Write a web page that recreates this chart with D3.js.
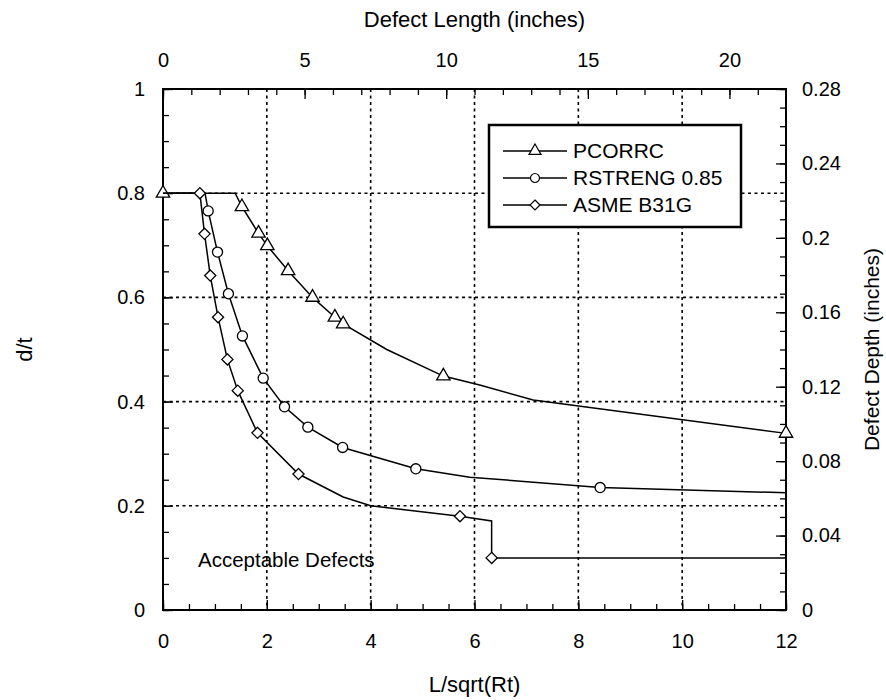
<!DOCTYPE html>
<html>
<head>
<meta charset="utf-8">
<script src="https://cdn.jsdelivr.net/npm/d3@7"></script>
<style>
  body { margin: 0; background: #fff; }
  svg text { font-family: Arial, 'Liberation Sans', sans-serif; fill: #000; }
</style>
</head>
<body>
<div id="graph-container"></div>
<script>
// Values
const xTicks = [0, 2, 4, 6, 8, 10, 12];
const yTicks = [0, 0.2, 0.4, 0.6, 0.8, 1];
const topTicks = [0, 5, 10, 15, 20];
const rightTicks = [0, 0.04, 0.08, 0.12, 0.16, 0.2, 0.24, 0.28];

const pcorrcLineX = [0, 1.39, 1.52, 1.84, 2.01, 2.41, 2.88, 3.31, 3.47, 4.31, 5.4, 6.1, 7.13, 12];
const pcorrcLineY = [0.8, 0.8, 0.774, 0.723, 0.699, 0.651, 0.6, 0.562, 0.549, 0.5, 0.449, 0.432, 0.403, 0.339];
const pcorrcMarkX = [0, 1.52, 1.84, 2.01, 2.41, 2.88, 3.31, 3.47, 5.4, 12];
const pcorrcMarkY = [0.8, 0.774, 0.723, 0.699, 0.651, 0.6, 0.562, 0.549, 0.449, 0.339];

const rstrengLineX = [0, 0.81, 0.87, 1.05, 1.26, 1.53, 1.93, 2.34, 2.79, 3.46, 4.87, 5.91, 8.42, 12];
const rstrengLineY = [0.8, 0.8, 0.766, 0.687, 0.607, 0.526, 0.445, 0.39, 0.351, 0.312, 0.271, 0.255, 0.235, 0.225];
const rstrengMarkX = [0.87, 1.05, 1.26, 1.53, 1.93, 2.34, 2.79, 3.46, 4.87, 8.42];
const rstrengMarkY = [0.766, 0.687, 0.607, 0.526, 0.445, 0.39, 0.351, 0.312, 0.271, 0.235];

const asmeLineX = [0, 0.71, 0.8, 0.91, 1.06, 1.24, 1.44, 1.82, 2.61, 3.47, 4.0, 5.72, 6.33, 6.33, 12];
const asmeLineY = [0.8, 0.8, 0.722, 0.642, 0.562, 0.481, 0.421, 0.34, 0.261, 0.217, 0.2, 0.18, 0.171, 0.1, 0.1];
const asmeMarkX = [0.71, 0.8, 0.91, 1.06, 1.24, 1.44, 1.82, 2.61, 5.72, 6.33];
const asmeMarkY = [0.8, 0.722, 0.642, 0.562, 0.481, 0.421, 0.34, 0.261, 0.18, 0.1];

const seriesNames = ['PCORRC', 'RSTRENG 0.85', 'ASME B31G'];

const zip = (xs, ys) => xs.map((x, i) => ({ x, y: ys[i] }));

// diamond drawn as a square turned 45 degrees (matches the original's wide diamonds)
const symDiamond = { draw(ctx, size) { const r = Math.sqrt(size / 2); ctx.moveTo(0, -r); ctx.lineTo(r, 0); ctx.lineTo(0, r); ctx.lineTo(-r, 0); ctx.closePath(); } };

const series = [
  { name: seriesNames[0], symbol: d3.symbolTriangle, size: 78, line: zip(pcorrcLineX, pcorrcLineY), marks: zip(pcorrcMarkX, pcorrcMarkY) },
  { name: seriesNames[1], symbol: d3.symbolCircle, size: 80, line: zip(rstrengLineX, rstrengLineY), marks: zip(rstrengMarkX, rstrengMarkY) },
  { name: seriesNames[2], symbol: symDiamond, size: 62, line: zip(asmeLineX, asmeLineY), marks: zip(asmeMarkX, asmeMarkY) },
];

const width = 886;
const height = 700;
const padL = 163, padR = 786, padT = 89, padB = 610;
const FONT = '20px';
const TITLE_FONT = '22px';

const svg = d3.select('#graph-container')
  .append('svg')
  .attr('width', width)
  .attr('height', height);

const x = d3.scaleLinear().domain([0, 12]).range([padL, padR]);
const y = d3.scaleLinear().domain([0, 1]).range([padB, padT]);
const xTop = d3.scaleLinear().domain([0, 12 * Math.sqrt(12 * 0.28)]).range([padL, padR]);
const yRight = d3.scaleLinear().domain([0, 0.28]).range([padB, padT]);

// Dotted grid
const grid = svg.append('g').attr('stroke', '#000').attr('stroke-width', 1.6).attr('stroke-dasharray', '3,3.5');
grid.selectAll('.vg').data(xTicks.slice(1, -1)).enter().append('line')
  .attr('x1', (d) => x(d)).attr('x2', (d) => x(d)).attr('y1', padT).attr('y2', padB);
grid.selectAll('.hg').data(yTicks.slice(1, -1)).enter().append('line')
  .attr('y1', (d) => y(d)).attr('y2', (d) => y(d)).attr('x1', padL).attr('x2', padR);

// Axes with inward ticks
function styleAxis(g) {
  g.select('.domain').remove();
  g.selectAll('.tick line').attr('stroke', '#000').attr('stroke-width', 1.3);
  g.selectAll('text').style('font-size', FONT).attr('fill', '#000');
}

const bottomMinor = d3.range(0, 12.01, 0.5);
svg.append('g').attr('transform', `translate(0,${padB})`)
  .call(d3.axisBottom(x).tickValues(bottomMinor).tickSize(-6).tickFormat(''))
  .call(styleAxis);
svg.append('g').attr('transform', `translate(0,${padB})`)
  .call(d3.axisBottom(x).tickValues(xTicks).tickSize(-10).tickPadding(24).tickFormat(d3.format('d')))
  .call(styleAxis);

const leftMinor = d3.range(0, 1.001, 0.05);
svg.append('g').attr('transform', `translate(${padL},0)`)
  .call(d3.axisLeft(y).tickValues(leftMinor).tickSize(-6).tickFormat(''))
  .call(styleAxis);
svg.append('g').attr('transform', `translate(${padL},0)`)
  .call(d3.axisLeft(y).tickValues(yTicks).tickSize(-10).tickPadding(18).tickFormat((d) => (d === 0 || d === 1 ? d : d.toFixed(1))))
  .call(styleAxis);

const topMinor = d3.range(0, 22, 1);
svg.append('g').attr('transform', `translate(0,${padT})`)
  .call(d3.axisTop(xTop).tickValues(topMinor).tickSize(-6).tickFormat(''))
  .call(styleAxis);
svg.append('g').attr('transform', `translate(0,${padT})`)
  .call(d3.axisTop(xTop).tickValues(topTicks).tickSize(-10).tickPadding(22).tickFormat(d3.format('d')))
  .call(styleAxis);

const rightMinor = d3.range(0, 0.2801, 0.01);
svg.append('g').attr('transform', `translate(${padR},0)`)
  .call(d3.axisRight(yRight).tickValues(rightMinor).tickSize(-6).tickFormat(''))
  .call(styleAxis);
svg.append('g').attr('transform', `translate(${padR},0)`)
  .call(d3.axisRight(yRight).tickValues(rightTicks).tickSize(-10).tickPadding(16).tickFormat((d) => (d === 0 ? '0' : String(+d.toFixed(2)))))
  .call(styleAxis);

// Frame
svg.append('rect')
  .attr('x', padL).attr('y', padT)
  .attr('width', padR - padL).attr('height', padB - padT)
  .attr('fill', 'none').attr('stroke', '#000').attr('stroke-width', 2);

// Axis titles
svg.append('text').attr('x', (padL + padR) / 2).attr('y', 27)
  .attr('text-anchor', 'middle').style('font-size', TITLE_FONT).text('Defect Length (inches)');
svg.append('text').attr('x', (padL + padR) / 2).attr('y', 692)
  .attr('text-anchor', 'middle').style('font-size', TITLE_FONT).text('L/sqrt(Rt)');
svg.append('text').attr('transform', `translate(32,${(padT + padB) / 2}) rotate(-90)`)
  .attr('text-anchor', 'middle').style('font-size', TITLE_FONT).text('d/t');
svg.append('text').attr('transform', `translate(879,${(padT + padB) / 2}) rotate(-90)`)
  .attr('text-anchor', 'middle').style('font-size', '21px').text('Defect Depth (inches)');

// Curves and markers
const line = d3.line().x((d) => x(d.x)).y((d) => y(d.y));
series.forEach((s) => {
  svg.append('path').datum(s.line)
    .attr('d', line).attr('fill', 'none').attr('stroke', '#000').attr('stroke-width', 1.5);
  svg.append('g').selectAll('path').data(s.marks).enter().append('path')
    .attr('d', d3.symbol().type(s.symbol).size(s.size))
    .attr('transform', (d) => `translate(${x(d.x)},${y(d.y)})`)
    .attr('fill', '#fff').attr('stroke', '#000').attr('stroke-width', 1.3);
});

svg.append('text').attr('x', 198).attr('y', 567).style('font-size', '20.5px').text('Acceptable Defects');

// Legend
const legend = svg.append('g').attr('id', 'legend');
legend.append('rect').attr('x', 489).attr('y', 125).attr('width', 252).attr('height', 102)
  .attr('fill', '#fff').attr('stroke', '#000').attr('stroke-width', 2.5);
series.forEach((s, i) => {
  const ly = 151 + i * 27;
  legend.append('line').attr('x1', 503).attr('x2', 567).attr('y1', ly).attr('y2', ly)
    .attr('stroke', '#000').attr('stroke-width', 1.4);
  legend.append('path').attr('d', d3.symbol().type(s.symbol).size(s.size * 0.8))
    .attr('transform', `translate(535,${ly})`)
    .attr('fill', '#fff').attr('stroke', '#000').attr('stroke-width', 1.2);
  legend.append('text').attr('x', 573).attr('y', ly + 7).style('font-size', '21px').text(s.name);
});
</script>
</body>
</html>
